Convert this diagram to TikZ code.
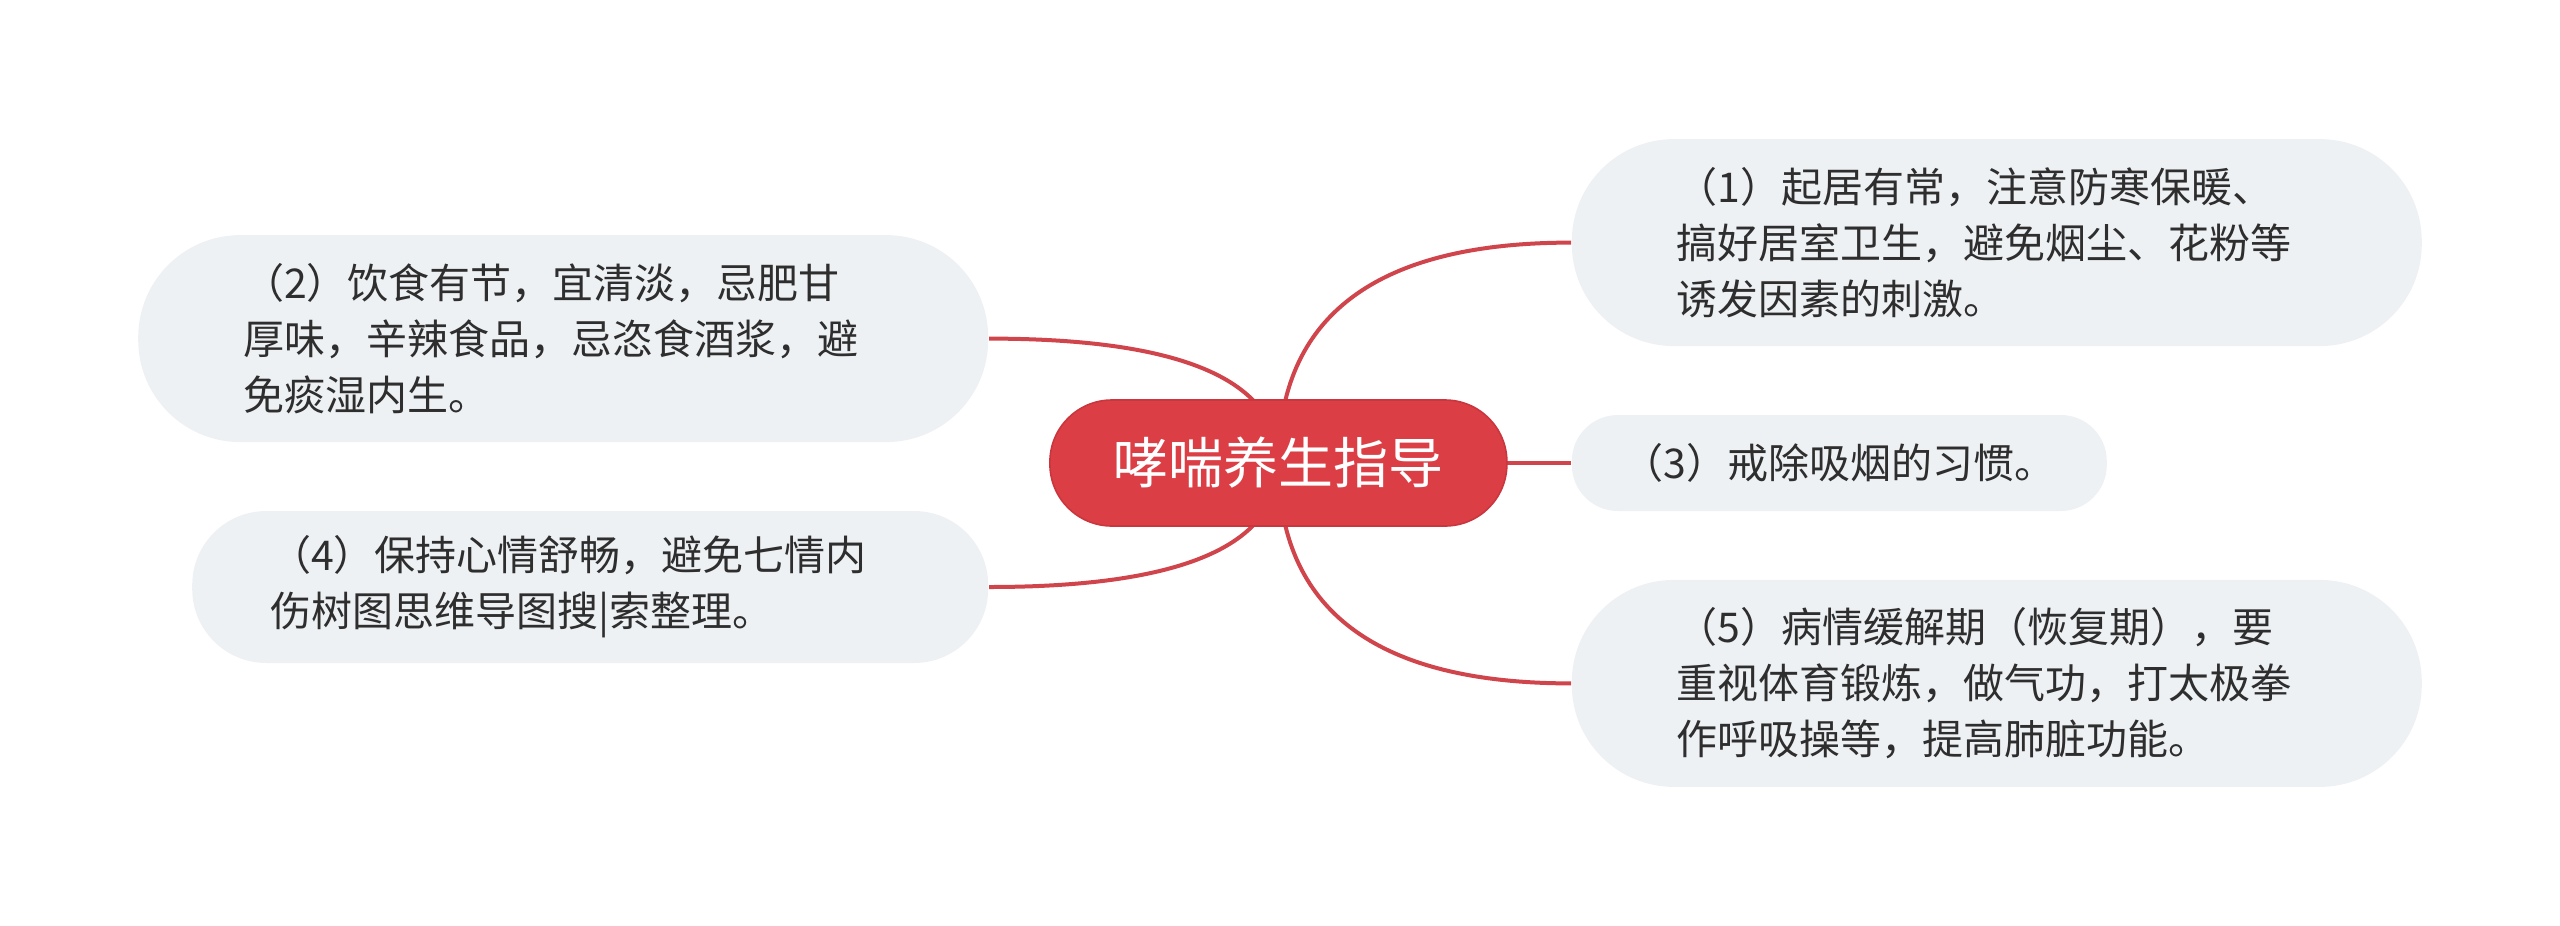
\documentclass[tikz,border=0pt]{standalone}
\usepackage{fontspec}
\setmainfont{Noto Sans CJK SC}
\usetikzlibrary{backgrounds,calc}

\definecolor{rootred}{HTML}{DC3E46}
\definecolor{rootedge}{HTML}{C9363D}
\definecolor{linkred}{HTML}{D0444B}
\definecolor{boxgray}{HTML}{EEF1F4}
\definecolor{textgray}{HTML}{2E2E2E}

\tikzset{
  root/.style={draw=rootedge, line width=0.4pt, fill=rootred, text=white,
    rounded corners=15.5pt, minimum width=114.25pt, minimum height=31.5pt,
    font=\fontsize{13.75}{16}\selectfont},
  topic/.style={fill=boxgray, text=textgray, inner sep=0pt,
    font=\fontsize{10.25}{14}\selectfont},
  para/.style={topic, align=left, text width=160pt},
  link/.style={draw=linkred, line width=1pt},
}

\begin{document}
\begin{tikzpicture}[x=1pt, y=1pt]
  \useasboundingbox (0,0) rectangle (640,231.25);

  \node (root) [root] at (319.6,115.5) {哮喘养生指导};

  % right side
  \node (care) [para, anchor=west, minimum width=212.5pt, minimum height=51.75pt, rounded corners=25.5pt]
    at (392.75,170.6) {（1）起居有常，注意防寒保暖、\\搞好居室卫生，避免烟尘、花粉等\\诱发因素的刺激。};
  \node (smoke) [topic, anchor=west, minimum width=133.75pt, minimum height=24pt, rounded corners=11.5pt]
    at (392.75,115.5) {（3）戒除吸烟的习惯。};
  \node (rehab) [para, anchor=west, minimum width=212.5pt, minimum height=51.75pt, rounded corners=25.5pt]
    at (392.75,60.4) {（5）病情缓解期（恢复期），要\\重视体育锻炼，做气功，打太极拳\\作呼吸操等，提高肺脏功能。};

  % left side
  \node (diet) [para, anchor=east, minimum width=212.5pt, minimum height=51.75pt, rounded corners=25.5pt]
    at (247.25,146.6) {（2）饮食有节，宜清淡，忌肥甘\\厚味，辛辣食品，忌恣食酒浆，避\\免痰湿内生。};
  \node (mood) [para, anchor=east, minimum width=199pt, minimum height=38pt, rounded corners=18.5pt]
    at (247.25,84.5) {（4）保持心情舒畅，避免七情内\\伤树图思维导图搜|索整理。};

  \begin{scope}[on background layer]
    \foreach \n/\a in {care/west, diet/east, mood/east, rehab/west} {
      \coordinate (knee) at (root.center |- \n.\a);
      \draw[link] (root.center) .. controls ($(root.center)!2/3!(knee)$) and ($(\n.\a)!2/3!(knee)$) .. (\n.\a);
    }
    \draw[link] (root.center) -- (smoke.west);
  \end{scope}
\end{tikzpicture}
\end{document}
